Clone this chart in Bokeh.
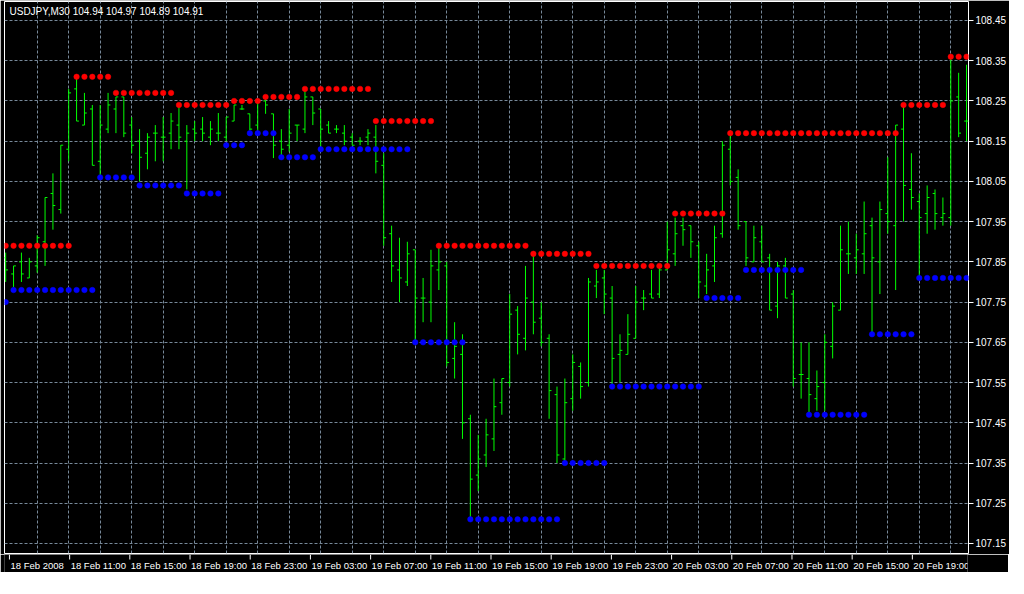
import numpy as np
from bokeh.plotting import figure
from bokeh.layouts import column
from bokeh.models import (Range1d, LinearAxis, FixedTicker, Grid, Label,
                          ColumnDataSource, PrintfTickFormatter)
from bokeh.core.properties import value
from bokeh.embed import file_html
from bokeh.resources import INLINE

# ---------------- data ----------------
chart_title = "USDJPY,M30  104.94 104.97 104.89 104.91"

time_labels = ["18 Feb 2008", "18 Feb 11:00", "18 Feb 15:00", "18 Feb 19:00",
               "18 Feb 23:00", "19 Feb 03:00", "19 Feb 07:00", "19 Feb 11:00",
               "19 Feb 15:00", "19 Feb 19:00", "19 Feb 23:00", "20 Feb 03:00",
               "20 Feb 07:00", "20 Feb 11:00", "20 Feb 15:00", "20 Feb 19:00"]
time_label_bars = [0, 8, 16, 24, 32, 40, 48, 56, 64, 72, 80, 88, 96, 104, 112, 120]
grid_bars = [4, 8, 12, 16, 20, 24, 28, 32, 36, 40, 44, 48, 52, 56, 60, 64, 68,
             72, 76, 80, 84, 88, 92, 96, 100, 104, 108, 112, 116, 120]
price_ticks = [107.15, 107.25, 107.35, 107.45, 107.55, 107.65, 107.75,
               107.85, 107.95, 108.05, 108.15, 108.25, 108.35, 108.45]

opens = [107.86, 107.82, 107.85, 107.81, 107.84, 107.90, 108.02, 107.98, 108.13, 108.28,
         108.19, 108.23, 108.10, 108.18, 108.23, 108.26, 108.19, 108.15, 108.12, 108.17,
         108.16, 108.17, 108.19, 108.15, 108.18, 108.18, 108.16, 108.17, 108.16, 108.20,
         108.23, 108.218, 108.19, 108.25, 108.218, 108.15, 108.14, 108.19, 108.18, 108.26,
         108.23, 108.19, 108.18, 108.17, 108.16, 108.15, 108.16, 108.16, 108.09, 107.92,
         107.83, 107.80, 107.88, 107.76, 107.75, 107.83, 107.84, 107.61, 107.62, 107.46,
         107.32, 107.37, 107.41, 107.50, 107.55, 107.73, 107.66, 107.75, 107.71, 107.66,
         107.52, 107.36, 107.51, 107.59, 107.55, 107.79, 107.81, 107.76, 107.62, 107.62,
         107.66, 107.76, 107.77, 107.77, 107.83, 107.87, 107.94, 107.94, 107.89, 107.79,
         107.84, 107.92, 108.13, 108.06, 107.95, 107.85, 107.90, 107.86, 107.74, 107.84,
         107.77, 107.57, 107.56, 107.51, 107.55, 107.64, 107.73, 107.87, 107.86, 107.87,
         107.94, 107.85, 107.97, 107.94, 108.18, 108.03, 108.00, 107.97, 108.02, 107.96,
         107.96, 108.26, 108.20]
highs = [107.873, 107.84, 107.873, 107.86, 107.916, 108.01, 108.07, 108.14, 108.28, 108.306,
         108.27, 108.24, 108.24, 108.27, 108.26, 108.26, 108.21, 108.18, 108.17, 108.19,
         108.21, 108.22, 108.24, 108.19, 108.20, 108.21, 108.20, 108.22, 108.21, 108.24,
         108.24, 108.218, 108.255, 108.255, 108.218, 108.18, 108.23, 108.19, 108.275, 108.26,
         108.23, 108.20, 108.19, 108.19, 108.17, 108.16, 108.18, 108.19, 108.12, 107.94,
         107.91, 107.90, 107.88, 107.81, 107.88, 107.885, 107.85, 107.70, 107.67, 107.47,
         107.42, 107.46, 107.56, 107.56, 107.77, 107.74, 107.84, 107.865, 107.75, 107.67,
         107.54, 107.56, 107.62, 107.60, 107.81, 107.83, 107.83, 107.79, 107.67, 107.72,
         107.79, 107.78, 107.83, 107.84, 107.95, 107.96, 107.96, 107.94, 107.90, 107.87,
         107.94, 108.15, 108.17, 108.08, 107.95, 107.94, 107.94, 107.87, 107.85, 107.86,
         107.78, 107.65, 107.65, 107.58, 107.67, 107.75, 107.94, 107.95, 107.92, 108.00,
         107.96, 108.00, 108.11, 108.19, 108.24, 108.12, 108.02, 108.04, 108.03, 108.01,
         108.355, 108.32, 108.34]
lows = [107.80, 107.787, 107.80, 107.81, 107.823, 107.84, 107.93, 107.97, 108.10, 108.20,
        108.19, 108.09, 108.06, 108.17, 108.17, 108.16, 108.12, 108.05, 108.08, 108.10,
        108.10, 108.13, 108.13, 108.03, 108.15, 108.15, 108.14, 108.15, 108.15, 108.20,
        108.228, 108.177, 108.177, 108.218, 108.108, 108.114, 108.124, 108.15, 108.17, 108.19,
        108.13, 108.17, 108.17, 108.14, 108.14, 108.14, 108.14, 108.07, 107.89, 107.80,
        107.75, 107.79, 107.65, 107.70, 107.70, 107.78, 107.59, 107.56, 107.41, 107.21,
        107.28, 107.34, 107.38, 107.47, 107.54, 107.62, 107.63, 107.67, 107.64, 107.46,
        107.35, 107.35, 107.48, 107.51, 107.54, 107.76, 107.72, 107.544, 107.55, 107.62,
        107.66, 107.73, 107.76, 107.76, 107.83, 107.84, 107.89, 107.86, 107.76, 107.77,
        107.80, 107.91, 108.04, 107.93, 107.84, 107.85, 107.85, 107.73, 107.71, 107.76,
        107.54, 107.51, 107.476, 107.48, 107.48, 107.61, 107.73, 107.82, 107.82, 107.82,
        107.67, 107.77, 107.92, 107.78, 107.95, 107.98, 107.81, 107.92, 107.93, 107.94,
        107.94, 108.16, 108.15]
closes = [107.83, 107.84, 107.82, 107.85, 107.91, 108.01, 107.99, 108.14, 108.27, 108.20,
          108.22, 108.09, 108.19, 108.24, 108.26, 108.17, 108.14, 108.11, 108.16, 108.17,
          108.16, 108.20, 108.16, 108.17, 108.17, 108.17, 108.18, 108.17, 108.21, 108.24,
          108.23, 108.18, 108.25, 108.24, 108.14, 108.13, 108.17, 108.19, 108.26, 108.22,
          108.18, 108.17, 108.18, 108.15, 108.14, 108.15, 108.17, 108.10, 107.91, 107.84,
          107.81, 107.87, 107.76, 107.76, 107.84, 107.85, 107.60, 107.64, 107.45, 107.31,
          107.36, 107.42, 107.49, 107.56, 107.72, 107.67, 107.76, 107.70, 107.65, 107.53,
          107.37, 107.50, 107.60, 107.54, 107.80, 107.80, 107.77, 107.61, 107.63, 107.67,
          107.75, 107.76, 107.76, 107.83, 107.88, 107.92, 107.93, 107.90, 107.80, 107.83,
          107.91, 108.14, 108.05, 107.94, 107.86, 107.91, 107.85, 107.73, 107.84, 107.76,
          107.56, 107.57, 107.52, 107.54, 107.65, 107.74, 107.88, 107.87, 107.88, 107.92,
          107.86, 107.98, 107.95, 108.19, 108.04, 108.01, 107.96, 108.01, 107.97, 107.97,
          108.25, 108.17, 108.20]

# resistance (red) and support (blue) levels: (first bar, last bar, price)
resistance_runs = [(0, 8, 107.89), (9, 13, 108.31), (14, 21, 108.27), (22, 28, 108.24),
                   (29, 32, 108.25), (33, 37, 108.26), (38, 46, 108.28), (47, 54, 108.20),
                   (55, 66, 107.89), (67, 74, 107.87), (75, 84, 107.84), (85, 91, 107.97),
                   (92, 113, 108.17), (114, 119, 108.24), (120, 122, 108.36)]
support_runs = [(0, 0, 107.75), (1, 11, 107.78), (12, 16, 108.06), (17, 22, 108.04),
                (23, 27, 108.02), (28, 30, 108.14), (31, 34, 108.17), (35, 39, 108.11),
                (40, 51, 108.13), (52, 58, 107.65), (59, 70, 107.21), (71, 76, 107.35),
                (77, 88, 107.54), (89, 93, 107.76), (94, 101, 107.83), (102, 109, 107.47),
                (110, 115, 107.67), (116, 122, 107.81)]

# ---------------- style / geometry ----------------
FONT = "Liberation Sans"
FSIZE = "10px"
DATE_FSIZE = "9.5px"
BAR_COLOR = "#00ff00"
GRID_COLOR = "#778899"
LEFT_PAD = 4
TOP_PAD = 1
FRAME_W = 964
FRAME_H = 552
PX_PER_PRICE = 402.3
X0, X1 = -0.15, 122.25
Y1 = 108.4972
Y0 = Y1 - FRAME_H / PX_PER_PRICE
TOTAL_W = 1008
STRIP_H = 18

bars = np.arange(len(opens))


def expand(runs):
    xs, ys = [], []
    for a, b, lvl in runs:
        for k in range(a, b + 1):
            xs.append(k)
            ys.append(lvl)
    return xs, ys


p = figure(frame_width=FRAME_W, frame_height=FRAME_H, output_backend="svg",
           toolbar_location=None, x_range=Range1d(X0, X1), y_range=Range1d(Y0, Y1),
           x_axis_location=None, y_axis_location=None,
           background_fill_color="black", border_fill_color="black",
           min_border_left=LEFT_PAD, min_border_top=TOP_PAD, min_border_right=0,
           min_border_bottom=1)
p.outline_line_color = "white"
p.outline_line_width = 1
p.xgrid.visible = False
p.ygrid.visible = False

# price axis on the right
yax = LinearAxis(ticker=FixedTicker(ticks=price_ticks),
                 formatter=PrintfTickFormatter(format="%.2f"),
                 axis_line_color=None, major_tick_line_color="white",
                 major_tick_in=0, major_tick_out=5, minor_tick_line_color=None,
                 major_label_text_color="white", major_label_text_font=FONT,
                 major_label_text_font_size=FSIZE, major_label_standoff=2)
p.add_layout(yax, "right")

# grids
p.add_layout(Grid(dimension=0, ticker=FixedTicker(ticks=grid_bars),
                  grid_line_color=GRID_COLOR, grid_line_dash="3 2", grid_line_width=1))
p.add_layout(Grid(dimension=1, ticker=FixedTicker(ticks=price_ticks),
                  grid_line_color=GRID_COLOR, grid_line_dash="3 2", grid_line_width=1))

# OHLC bars
src = ColumnDataSource(dict(x=bars, xl=bars - 0.3, xr=bars + 0.3,
                            o=opens, h=highs, l=lows, c=closes))
p.segment(x0="x", y0="l", x1="x", y1="h", source=src, line_color=BAR_COLOR, line_width=1)
p.segment(x0="xl", y0="o", x1="x", y1="o", source=src, line_color=BAR_COLOR, line_width=1)
p.segment(x0="x", y0="c", x1="xr", y1="c", source=src, line_color=BAR_COLOR, line_width=1)

# level dots
rx, ry = expand(resistance_runs)
sx, sy = expand(support_runs)
p.scatter(rx, ry, size=5.5, fill_color="#ff0000", line_color="#ff0000", line_width=0.5)
p.scatter(sx, sy, size=5.5, fill_color="#0000ff", line_color="#0000ff", line_width=0.5)

# chart title
p.add_layout(Label(x=X0, y=Y1, text=chart_title, x_offset=5, y_offset=-4,
                   text_align="left", text_baseline="top", text_color="white",
                   text_font=FONT, text_font_size=FSIZE))

# ---------------- time scale strip (same bar scale, full width) ----------------
px_per_bar = FRAME_W / (X1 - X0)
tx0 = X0 - LEFT_PAD / px_per_bar
t = figure(width=TOTAL_W, height=STRIP_H, output_backend="svg", toolbar_location=None,
           x_range=Range1d(tx0, tx0 + TOTAL_W / px_per_bar), y_range=Range1d(0, STRIP_H),
           x_axis_location=None, y_axis_location=None,
           background_fill_color="black", border_fill_color="black",
           min_border_left=0, min_border_top=0, min_border_right=0, min_border_bottom=0)
t.outline_line_color = None
t.xgrid.visible = False
t.ygrid.visible = False
n = len(time_label_bars)
tsrc = ColumnDataSource(dict(x=time_label_bars, label=time_labels,
                             top=[STRIP_H] * n, tick_end=[STRIP_H - 5] * n,
                             mid=[STRIP_H - 11] * n))
t.segment(x0="x", y0="top", x1="x", y1="tick_end", source=tsrc, line_color="white", line_width=1)
t.text(x="x", y="mid", text="label", source=tsrc, x_offset=1, text_align="left",
       text_baseline="middle", text_color="white", text_font=value(FONT),
       text_font_size=value(DATE_FSIZE))

layout = column(p, t, spacing=0)
open("out.html", "w").write(file_html(layout, INLINE))
